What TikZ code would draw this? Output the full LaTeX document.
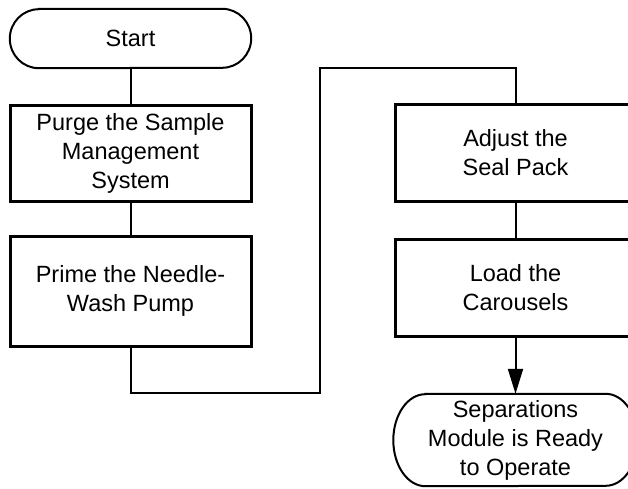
\documentclass[tikz,border=0pt]{standalone}
\usepackage{fontspec}
\setmainfont{Liberation Sans}
\usetikzlibrary{arrows.meta}

\begin{document}
\begin{tikzpicture}[x=1pt,y=1pt]
                        \tikzstyle{stepbox}=[draw, line width=3pt, align=center,
                            minimum width=241pt, minimum height=96pt, inner sep=0pt,
                            font=\fontsize{23.5}{29}\selectfont]
                        \tikzstyle{terminal}=[align=center, minimum width=241pt, inner sep=0pt,
                            font=\fontsize{23.5}{29}\selectfont]
                        \tikzstyle{rim}=[line width=2pt]
                        \tikzstyle{link}=[line width=2pt]
                        \useasboundingbox (0,0) rectangle (628,488);
                        \clip (0,0) rectangle (628,488);
                        % left column
                        \node[terminal, minimum height=59pt] (start) at (130.5,449.5) {Start};
                        \node[stepbox, minimum height=95pt] (purge) at (130.5,334.5)
                            {Purge the Sample\\Management\\System};
                        \node[stepbox, minimum height=110pt] (prime) at (130.5,197)
                            {Prime the Needle-\\Wash Pump};
                        % right column
                        \node[stepbox] (adjust) at (515.5,335) {Adjust the\\Seal Pack};
                        \node[stepbox, minimum height=97pt] (load) at (515.5,200.5)
                            {Load the\\Carousels};
                        \node[terminal, minimum width=244pt, minimum height=92pt] (ready)
                            at (515.5,48) {Separations\\Module is Ready\\to Operate};
                        % terminal outlines
                        \draw[rim] ([xshift=29pt]start.north west) -- ([xshift=-29pt]start.north east)
                            arc[start angle=90, end angle=-90, x radius=29pt, y radius=29.5pt]
                            -- ([xshift=29pt]start.south west)
                            arc[start angle=270, end angle=90, x radius=29pt, y radius=29.5pt] -- cycle;
                        \draw[rim] ([xshift=32pt]ready.north west) -- ([xshift=-32pt]ready.north east)
                            arc[start angle=90, end angle=-90, x radius=32pt, y radius=46pt]
                            -- ([xshift=32pt]ready.south west)
                            arc[start angle=270, end angle=90, x radius=32pt, y radius=46pt] -- cycle;
                        % connectors
                        \coordinate (low) at (320,95);
                        \coordinate (high) at (320,420);
                        \draw[link] (start) -- (purge);
                        \draw[link] (purge) -- (prime);
                        \draw[link] (prime.south) |- (low) -- (high) -| (adjust.north);
                        \draw[link] (adjust) -- (load);
                        \draw[link, -{Triangle[length=25pt,width=15pt]}] (load) -- (ready);
                    \end{tikzpicture}
\end{document}
